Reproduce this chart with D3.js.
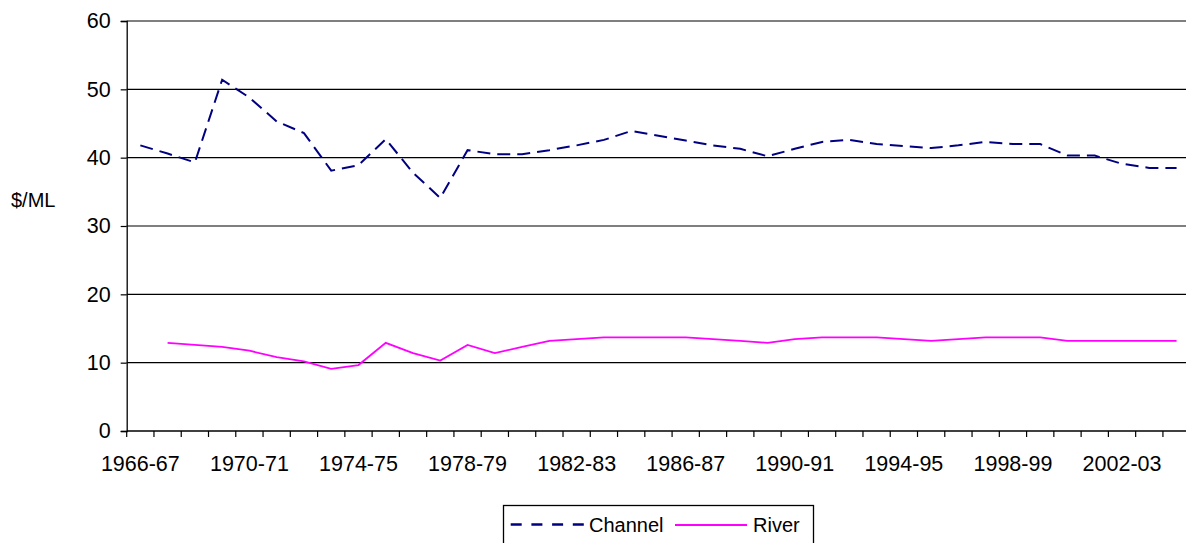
<!DOCTYPE html>
<html>
<head>
<meta charset="utf-8">
<script src="https://cdn.jsdelivr.net/npm/d3@7"></script>
<style>
  html, body { margin: 0; padding: 0; background: #fff; overflow: hidden; }
  svg { display: block; font-family: "Liberation Sans", Arial, sans-serif; }
</style>
</head>
<body>
<svg id="chart" width="1186" height="543"></svg>
<script>
// Financial years, 1966-67 to 2004-05
const years = [
  "1966-67","1967-68","1968-69","1969-70","1970-71","1971-72","1972-73","1973-74",
  "1974-75","1975-76","1976-77","1977-78","1978-79","1979-80","1980-81","1981-82",
  "1982-83","1983-84","1984-85","1985-86","1986-87","1987-88","1988-89","1989-90",
  "1990-91","1991-92","1992-93","1993-94","1994-95","1995-96","1996-97","1997-98",
  "1998-99","1999-00","2000-01","2001-02","2002-03","2003-04","2004-05"
];

// Price, $/ML
const channel = [
  41.8, 40.6, 39.3, 51.4, 48.8, 45.3, 43.6, 38.1, 38.9, 42.7,
  37.8, 34.1, 41.1, 40.5, 40.5, 41.1, 41.8, 42.6, 43.9, 43.2,
  42.5, 41.8, 41.3, 40.2, 41.3, 42.3, 42.6, 42.0, 41.7, 41.4,
  41.8, 42.3, 42.0, 42.0, 40.3, 40.3, 39.1, 38.5, 38.5
];
const river = [
  null, 12.9, 12.6, 12.3, 11.75, 10.8, 10.2, 9.1, 9.65, 12.9,
  11.4, 10.3, 12.6, 11.4, 12.3, 13.2, 13.45, 13.7, 13.7, 13.7,
  13.7, 13.45, 13.2, 12.9, 13.45, 13.7, 13.7, 13.7, 13.45, 13.2,
  13.45, 13.7, 13.7, 13.7, 13.2, 13.2, 13.2, 13.2, 13.2
];

const yTicks = [0, 10, 20, 30, 40, 50, 60];
const seriesNames = ["Channel", "River"];

const svg = d3.select("#chart");
const plotLeft = 126.7, plotRight = 1190.2, plotTop = 21, plotBottom = 431;
const axisFont = 21.5;

const x = d3.scaleBand().domain(years).range([plotLeft, plotRight]).paddingInner(0).paddingOuter(0);
const y = d3.scaleLinear().domain([0, 60]).range([plotBottom, plotTop]);
const cx = d => x(d) + x.bandwidth() / 2;

// Horizontal gridlines
svg.append("g").selectAll("line")
  .data(yTicks.filter(t => t > 0))
  .join("line")
  .attr("x1", plotLeft).attr("x2", 1186)
  .attr("y1", d => y(d)).attr("y2", d => y(d))
  .attr("stroke", "#000").attr("stroke-width", 1.2);

// Y axis
const yAxis = svg.append("g").attr("transform", `translate(${plotLeft},0)`)
  .call(d3.axisLeft(y).tickValues(yTicks).tickSize(6).tickPadding(10).tickFormat(d3.format("d")));
yAxis.select(".domain").attr("stroke", "#000").attr("stroke-width", 1.3);
yAxis.selectAll(".tick line").attr("stroke", "#000").attr("stroke-width", 1.2);
yAxis.selectAll(".tick text").attr("font-size", axisFont).attr("fill", "#000")
  .attr("font-family", "Liberation Sans, Arial, sans-serif");

// X axis: ticks at category boundaries, labels every fourth year
svg.append("line")
  .attr("x1", plotLeft).attr("x2", 1186).attr("y1", plotBottom).attr("y2", plotBottom)
  .attr("stroke", "#000").attr("stroke-width", 1.3);
svg.append("g").selectAll("line")
  .data(years)
  .join("line")
  .attr("x1", d => x(d)).attr("x2", d => x(d))
  .attr("y1", plotBottom).attr("y2", plotBottom + 6)
  .attr("stroke", "#000").attr("stroke-width", 1.2);
svg.append("g").selectAll("text")
  .data(years.filter((d, i) => i % 4 === 0))
  .join("text")
  .attr("x", d => cx(d)).attr("y", 471)
  .attr("text-anchor", "middle")
  .attr("font-size", axisFont).attr("fill", "#000")
  .text(d => d);

// Y axis title
svg.append("text")
  .attr("x", 11).attr("y", 207)
  .attr("font-size", 20).attr("fill", "#000")
  .text("$/ML");

// Lines
const line = d3.line()
  .defined(d => d.v != null)
  .x(d => cx(d.year))
  .y(d => y(d.v));

svg.append("path")
  .datum(years.map((yr, i) => ({ year: yr, v: channel[i] })))
  .attr("d", line)
  .attr("fill", "none")
  .attr("stroke", "#000080")
  .attr("stroke-width", 2)
  .attr("stroke-dasharray", "13,7");

svg.append("path")
  .datum(years.map((yr, i) => ({ year: yr, v: river[i] })))
  .attr("d", line)
  .attr("fill", "none")
  .attr("stroke", "#FF00FF")
  .attr("stroke-width", 1.8);

// Legend
const lg = svg.append("g");
lg.append("rect")
  .attr("x", 503.5).attr("y", 505.5).attr("width", 310).attr("height", 50)
  .attr("fill", "#fff").attr("stroke", "#000").attr("stroke-width", 1.3);
lg.append("line")
  .attr("x1", 510.7).attr("x2", 584).attr("y1", 524.5).attr("y2", 524.5)
  .attr("stroke", "#000080").attr("stroke-width", 2.5).attr("stroke-dasharray", "11,9.7");
lg.append("text")
  .attr("x", 589).attr("y", 532).attr("font-size", 20).attr("fill", "#000")
  .text(seriesNames[0]);
lg.append("line")
  .attr("x1", 675).attr("x2", 747).attr("y1", 525).attr("y2", 525)
  .attr("stroke", "#FF00FF").attr("stroke-width", 1.8);
lg.append("text")
  .attr("x", 753).attr("y", 532).attr("font-size", 20).attr("fill", "#000")
  .text(seriesNames[1]);
</script>
</body>
</html>
